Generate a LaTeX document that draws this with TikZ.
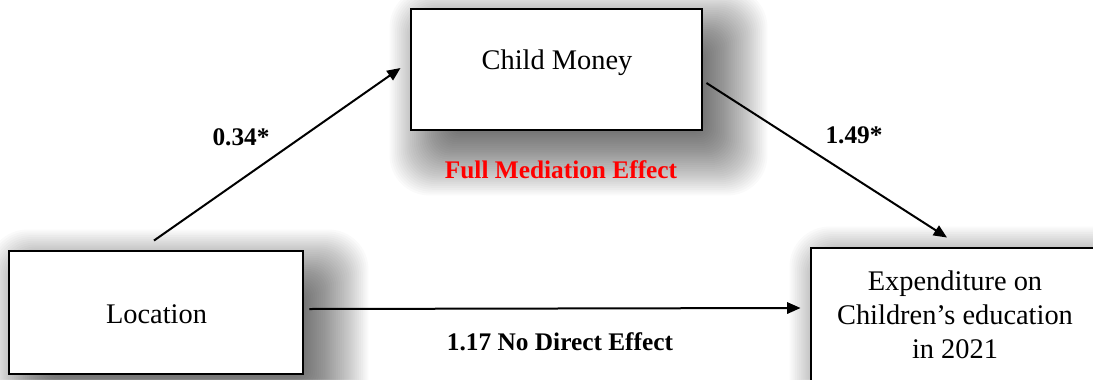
\documentclass[tikz,border=0pt]{standalone}
\usepackage{fontspec}
\setmainfont{Liberation Serif}
\usetikzlibrary{arrows.meta,calc}
\pgfdeclarelayer{bg}
\pgfsetlayers{bg,main}
\tikzset{
  box/.style={draw=black, line width=2.2pt, fill=white, inner sep=0pt},
  boxtext/.style={font=\fontsize{21.3}{25.5}\selectfont, inner sep=0pt, align=center},
  coef/.style={font=\fontsize{19}{23}\selectfont\bfseries, inner sep=0pt, anchor=base},
  conn/.style={line width=1.5pt, -{Triangle[length=10pt,width=8.5pt]}},
  shade/.style={fill=black, opacity=0.019},
}
\begin{document}
\begin{tikzpicture}[x=0.75pt,y=-0.75pt]
\useasboundingbox (0,0) rectangle (1093,379);

% boxes
\node[box, minimum width=218.25pt, minimum height=90.75pt] (cm) at (556.5,69.5) {};
\node[box, minimum width=220.5pt, minimum height=92.25pt] (loc) at (156,312.5) {};
\node[box, minimum width=213pt, minimum height=102pt] (exp) at (953,316) {};

% box texts
\node[boxtext, anchor=base] (cmt) at (557,69) {Child Money};
\node[boxtext, anchor=base] (loct) at (156.5,323) {Location};
\node[boxtext, anchor=center] (expt) at (955,314.5) {Expenditure on\\Children’s education\\in 2021};

% coefficients
\node[coef] (c1) at (241,145) {0.34*};
\node[coef] (c2) at (854,143) {1.49*};
\node[coef, text=red] (fm) at (561,178) {Full Mediation Effect};
\node[coef] (c3) at (560,350) {1.17 No Direct Effect};

% connectors
\draw[conn] ($(loc.north)+(-2,-9)$) -- ($(cm.west)+(-9,-1.5)$);
\draw[conn] ($(cm.east)+(3,13.5)$) -- ($(exp.north)+(-6,-9)$);
\draw[conn] ($(loc.east)+(5,-3.5)$) -- ($(exp.west)+(-9,-8)$);

% soft shadows
\begin{pgfonlayer}{bg}
\fill[white] (0,0) rectangle (1093,379);
\foreach \n in {cm,loc,exp}{
  \foreach \k in {0,...,40}{
    \pgfmathsetmacro{\tl}{55-75*\k/40}
    \pgfmathsetmacro{\br}{-12+76*\k/40}
    \pgfmathsetmacro{\rc}{0.75*(4+36*\k/40)}
    \fill[shade, rounded corners=\rc pt] ($(\n.north west)+(\tl,\tl)$) rectangle ($(\n.south east)+(\br,\br)$);
  }
}
\end{pgfonlayer}
\end{tikzpicture}
\end{document}
